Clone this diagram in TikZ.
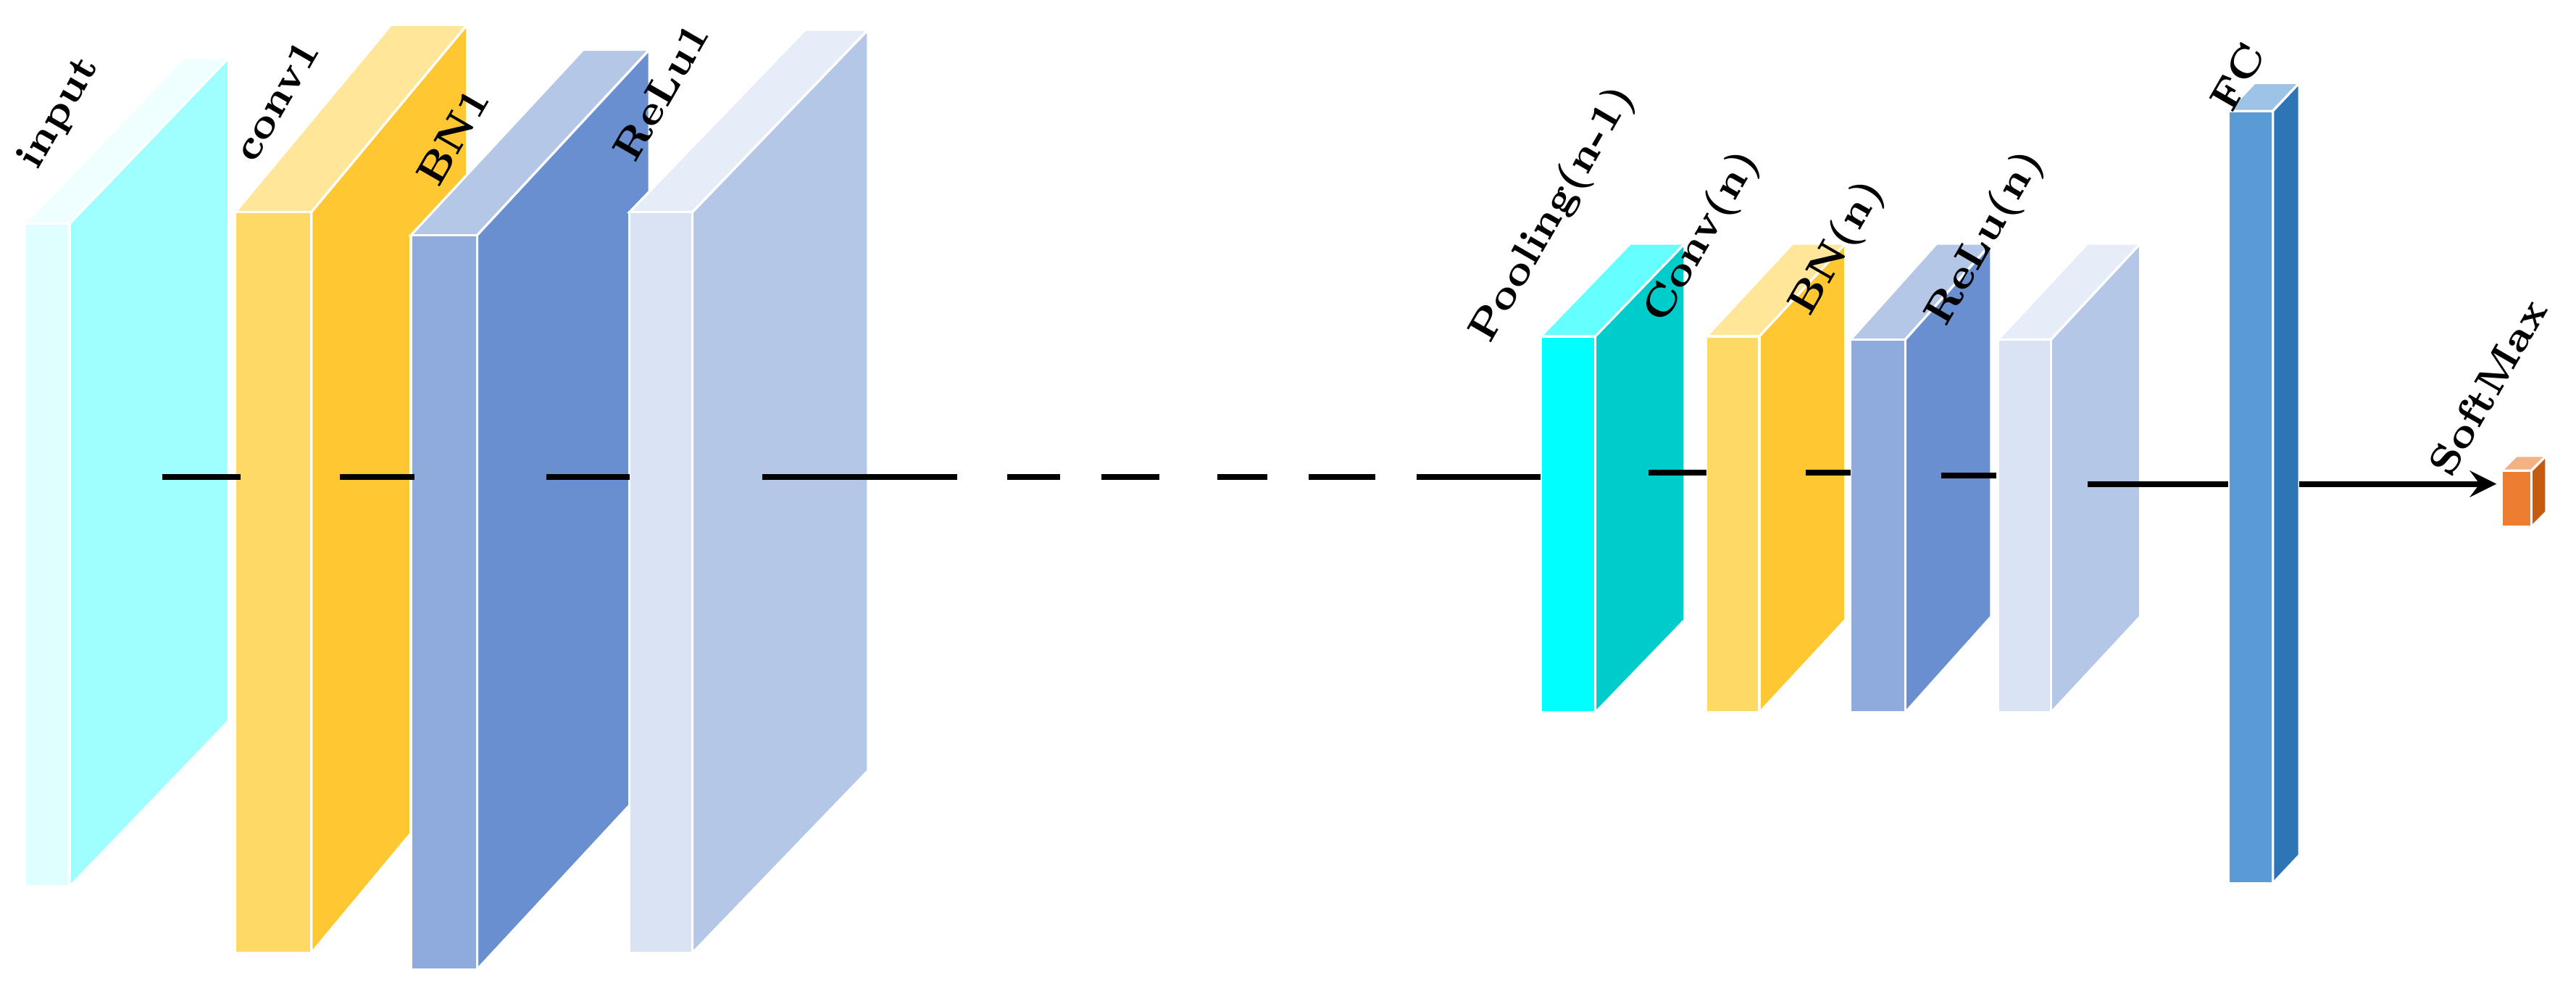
\documentclass[tikz,border=0pt]{standalone}
\usepackage{tikz}
\definecolor{intop}{HTML}{EFFFFF}\definecolor{inside}{HTML}{9FFFFF}\definecolor{infront}{HTML}{DFFFFF}
\definecolor{cvtop}{HTML}{FFE699}\definecolor{cvside}{HTML}{FFC832}\definecolor{cvfront}{HTML}{FFD966}
\definecolor{bntop}{HTML}{B4C7E7}\definecolor{bnside}{HTML}{6A8FD0}\definecolor{bnfront}{HTML}{8FAADC}
\definecolor{retop}{HTML}{E6ECF8}\definecolor{reside}{HTML}{B4C7E7}\definecolor{refront}{HTML}{DAE3F3}
\definecolor{pltop}{HTML}{66FFFF}\definecolor{plside}{HTML}{00CCCC}\definecolor{plfront}{HTML}{00FFFF}
\definecolor{fctop}{HTML}{9DC3E6}\definecolor{fcside}{HTML}{2E75B6}\definecolor{fcfront}{HTML}{5B9BD5}
\definecolor{smtop}{HTML}{F4B183}\definecolor{smside}{HTML}{C55A11}\definecolor{smfront}{HTML}{ED7D31}
% #1 name, #2 x, #3 top, #4 bottom, #5 width, #6 dx, #7 dy, #8 colour prefix
\newcommand{\layer}[8]{%
  \filldraw[#8top,draw=white,thin] (#2,#3) -- ++(#5,0) -- ++(#6,-#7) -- ++(-#5,0) -- cycle;
  \filldraw[#8side,draw=white,thin] (#2+#5,#3) -- ++(#6,-#7) -- ++(0,#4-#3) -- ++(-#6,#7) -- cycle;
  \filldraw[#8front,draw=white,thin] (#2,#3) rectangle ++(#5,#4-#3);
  \coordinate (#1) at (#2,#3);}
\begin{document}
\begin{tikzpicture}[x=0.01cm,y=-0.01cm,
    lbl/.style={rotate=60,anchor=south west,font=\scriptsize\bfseries,inner sep=0pt},
    link/.style={line width=1pt}]
    \useasboundingbox (0,0) rectangle (1555,601);

    \layer{input}{15}{135}{535}{27}{96}{100}{in}
    \layer{conv1}{142}{128}{575}{46}{94}{113}{cv}
    \layer{bn1}{248}{142}{585}{40}{104}{112}{bn}
    \layer{relu1}{380}{128}{575}{38}{106}{110}{re}
    \layer{pool}{930}{203}{430}{33}{54}{56}{pl}
    \layer{convn}{1030}{203}{430}{32}{52}{56}{cv}
    \layer{bnn}{1117}{205}{430}{33}{52}{58}{bn}
    \layer{relun}{1206}{205}{430}{32}{54}{58}{re}
    \layer{fc}{1345}{67}{533}{27}{16}{17}{fc}
    \layer{soft}{1510}{284}{318}{18}{9}{9}{sm}

    \node[lbl] at ([shift={(12,-28)}]input) {input};
    \node[lbl] at ([shift={(12,-28)}]conv1) {conv1};
    \node[lbl] at ([shift={(17,-27)}]bn1) {BN1};
    \node[lbl] at ([shift={(4,-28)}]relu1) {ReLu1};
    \node[lbl] at ([shift={(-25,9)}]pool) {Pooling(n-1)};
    \node[lbl] at ([shift={(-20,-3)}]convn) {Conv(n)};
    \node[lbl] at ([shift={(-19,-9)}]bnn) {BN(n)};
    \node[lbl] at ([shift={(-26,-3)}]relun) {ReLu(n)};
    \node[lbl] at ([shift={(3,3)}]fc) {FC};
    \node[lbl] at ([shift={(-30,6)}]soft) {SoftMax};

    \foreach \a/\b in {98/145,205/250,330/380,460/578,608/640,665/700,735/765,790/830,855/930}
        \draw[link] (\a,288) -- (\b,288);
    \foreach \a/\b/\y in {995/1030/285,1090/1117/285,1172/1205/287,1260/1345/292}
        \draw[link] (\a,\y) -- (\b,\y);
    \coordinate (fcout) at (1388,292);
    \draw[link,-stealth] (fcout) -- ([shift={(-3,8)}]soft);
\end{tikzpicture}
\end{document}
